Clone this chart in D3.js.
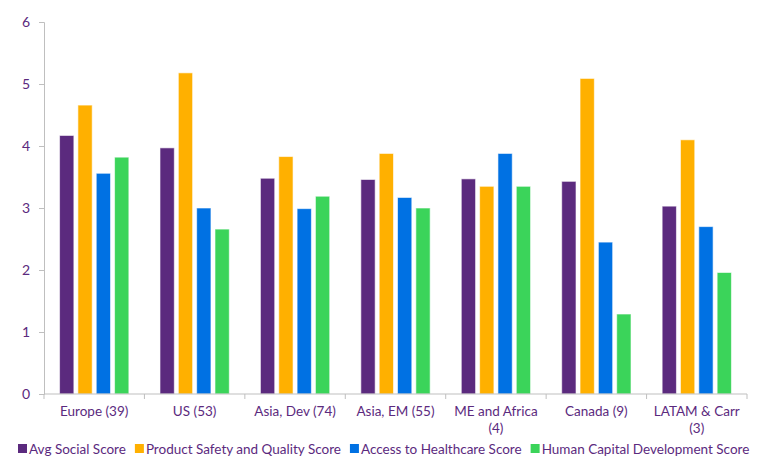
<!DOCTYPE html>
<html><head><meta charset="utf-8">
<script src="https://cdn.jsdelivr.net/npm/d3@7"></script>
<style>body{margin:0;background:#fff}svg{display:block}</style>
</head><body><svg id="c" width="768" height="471"></svg>
<script>
const categories = [["Europe (39)"],["US (53)"],["Asia, Dev (74)"],["Asia, EM (55)"],["ME and Africa","(4)"],["Canada (9)"],["LATAM & Carr","(3)"]];
const seriesNames = ["Avg Social Score","Product Safety and Quality Score","Access to Healthcare Score","Human Capital Development Score"];
const avgSocial = [4.17, 3.97, 3.48, 3.46, 3.47, 3.43, 3.03];
const productSafety = [4.66, 5.18, 3.83, 3.88, 3.35, 5.09, 4.10];
const healthcare = [3.56, 3.00, 2.99, 3.17, 3.88, 2.45, 2.70];
const humanCapital = [3.82, 2.66, 3.19, 3.00, 3.35, 1.29, 1.96];
const yTicks = [0,1,2,3,4,5,6];
const colors = ["#5B2A7E","#FFB000","#0071E3","#3BD45A"];
const series = [avgSocial, productSafety, healthcare, humanCapital];

(function(){
const svg = d3.select("#c");
const textColor = "#5B2A7E";
const font = "Lato, 'Noto Sans', sans-serif";
const mL = 44, mR = 747, mT = 22, mB = 394;

const x0 = d3.scaleBand().domain(d3.range(categories.length)).range([mL, mR]).padding(0);
const x1 = d3.scaleBand().domain(d3.range(series.length))
  .range([x0.bandwidth()*0.155, x0.bandwidth()*0.845]).paddingInner(0.22).paddingOuter(0);
const y = d3.scaleLinear().domain([0,6]).range([mB, mT]);

const g = svg.append("g");
categories.forEach((c, i) => {
  const grp = g.append("g").attr("transform", `translate(${x0(i)},0)`);
  grp.selectAll("rect").data(series.map((s, k) => ({k, v: s[i]}))).join("rect")
    .attr("x", d => x1(d.k)).attr("width", x1.bandwidth())
    .attr("y", d => y(d.v)).attr("height", d => y(0) - y(d.v))
    .attr("fill", d => colors[d.k]).attr("stroke", "#fff").attr("stroke-opacity", 0.6).attr("stroke-width", 1);
});

const yAxis = svg.append("g").attr("transform", `translate(${mL},0)`)
  .call(d3.axisLeft(y).tickValues(yTicks).tickFormat(d3.format("d")).tickSize(5).tickPadding(9));
yAxis.select(".domain").attr("stroke", "#BFBFBF");
yAxis.selectAll(".tick line").attr("stroke", "#BFBFBF");
yAxis.selectAll("text").attr("fill", textColor).style("font-family", font).style("font-size", "14px");

const xAxis = svg.append("g").attr("transform", `translate(0,${mB})`);
xAxis.append("line").attr("x1", mL).attr("x2", mR).attr("stroke", "#BFBFBF");
xAxis.selectAll(".tk").data(d3.range(categories.length + 1)).join("line")
  .attr("x1", d => mL + d * x0.step()).attr("x2", d => mL + d * x0.step())
  .attr("y1", 0).attr("y2", 5).attr("stroke", "#BFBFBF");
categories.forEach((lines, i) => {
  const t = xAxis.append("text").attr("text-anchor", "middle")
    .attr("fill", textColor).style("font-family", font).style("font-size", "13.5px");
  lines.forEach((ln, j) => t.append("tspan").attr("x", x0(i) + x0.bandwidth()/2).attr("y", 22 + j*17).text(ln));
});

const legend = svg.append("g").attr("transform", "translate(18,449)");
let lx = 0;
seriesNames.forEach((n, k) => {
  const it = legend.append("g").attr("transform", `translate(${lx},0)`);
  it.append("rect").attr("x", 0).attr("y", -5).attr("width", 9).attr("height", 9).attr("fill", colors[k]);
  const t = it.append("text").attr("x", 11).attr("y", 0).attr("dy", "0.35em")
    .attr("fill", textColor).style("font-family", font).style("font-size", "13.5px").text(n);
  lx += 11 + t.node().getComputedTextLength() + 9;
});
})();
</script></body></html>
